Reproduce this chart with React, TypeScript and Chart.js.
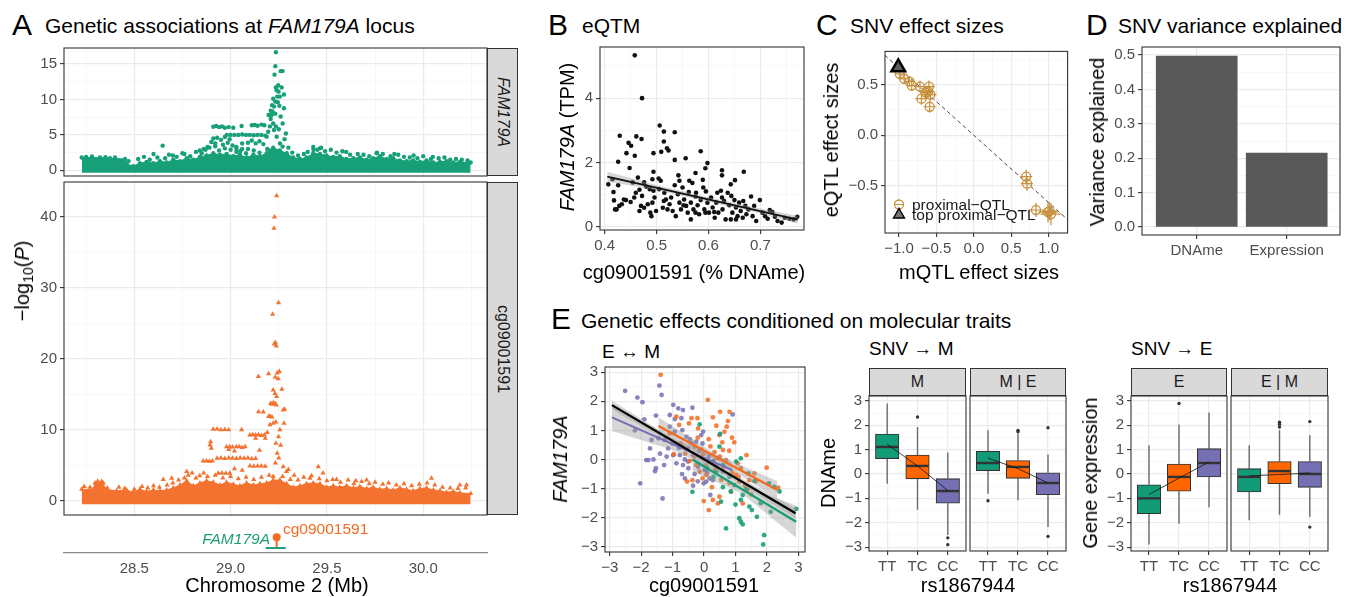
import React, { useEffect, useRef } from "react";
import { Chart, registerables } from "chart.js";

Chart.register(...registerables);

const FONT = "'Liberation Sans', Arial, Helvetica, sans-serif";
const TICK_COL = "#4d4d4d";
const PAD = 6;
const GREEN = "#1b9e77";
const ORANGE = "#f26b21";
const PURPLE = "#7570b3";
const MANH_GREEN = "#17a078";
const MANH_ORANGE = "#f4722f";
const TAN = "#c8903a";
const BOX_COLS = ["#119b77", "#ff6600", "#7570b3"];
const TITLE_FS = 21;
const AXIS_FS = 20;

// ---------------- Panel A : Manhattan ----------------
const chromMajor = [28.5, 29.0, 29.5, 30.0];
const chromMinor = [28.25, 28.75, 29.25, 29.75, 30.25];
// dense background band (upper edge of the dense cloud of SNVs)
const famEnvX = [28.227, 28.322, 28.374, 28.452, 28.46, 28.495, 28.529, 28.564, 28.599, 28.633, 28.668, 28.702, 28.737, 28.772, 28.806, 28.841, 28.875, 28.91, 28.945, 28.979, 29.014, 29.048, 29.083, 29.118, 29.152, 29.187, 29.204, 29.221, 29.256, 29.291, 29.325, 29.36, 29.394, 29.429, 29.464, 29.498, 29.533, 29.567, 29.602, 29.637, 29.671, 29.706, 29.74, 29.775, 29.81, 29.844, 29.879, 29.913, 29.948, 29.983, 30.017, 30.052, 30.087, 30.121, 30.156, 30.19, 30.246];
const famEnvY = [1.8, 1.8, 1.7, 1.6, 0.9, 0.6, 1.0, 1.2, 1.0, 1.3, 1.1, 1.5, 1.3, 1.7, 1.5, 1.9, 2.1, 2.4, 2.2, 2.3, 2.0, 2.2, 1.8, 2.2, 2.0, 2.4, 2.8, 3.2, 2.8, 2.4, 1.8, 1.6, 1.8, 2.4, 2.3, 2.1, 1.9, 2.0, 1.6, 1.7, 1.8, 1.5, 1.7, 2.0, 1.6, 1.7, 1.4, 1.3, 1.4, 1.2, 1.4, 1.1, 1.2, 1.3, 1.1, 1.2, 1.1];
const famPeakPts = [
  [28.647, 3.48], [28.91, 6.15], [28.925, 6.25], [28.94, 6.1], [28.955, 6.2], [28.97, 6.0], [28.99, 6.1], [29.014, 6.0], [29.057, 6.26],
  [29.11, 6.35], [29.125, 6.4], [29.14, 6.3], [29.16, 6.45], [29.175, 6.35],
  [28.98, 5.0], [29.0, 5.0], [29.02, 5.0], [29.04, 5.0], [29.06, 5.05], [29.08, 5.0], [29.1, 5.0], [29.12, 4.95], [29.14, 5.0], [29.16, 5.0], [29.18, 4.9],
  [28.91, 4.5], [28.93, 4.6], [28.95, 4.3], [28.97, 4.7], [28.995, 4.4],
  [28.9, 4.0], [28.92, 3.8], [28.96, 3.6], [28.985, 3.9], [29.01, 3.5], [29.03, 3.3], [29.06, 3.8], [29.09, 3.9], [29.11, 4.2], [29.13, 3.8], [29.15, 4.1], [29.17, 3.7],
  [29.0, 2.9], [29.03, 3.0], [29.06, 3.0], [29.09, 3.0], [28.88, 3.3], [28.86, 3.0], [28.84, 2.8],
  [29.197, 7.8], [29.208, 8.4], [29.208, 7.25], [29.221, 6.6], [29.221, 10.1], [29.232, 9.7], [29.239, 11.3], [29.249, 11.1], [29.277, 10.7], [29.253, 9.1], [29.277, 8.75],
  [29.228, 13.5], [29.232, 14.7], [29.26, 14.0], [29.27, 14.0], [29.235, 16.66], [29.287, 5.2], [29.213, 7.8], [29.217, 8.3], [29.232, 8.0], [29.225, 5.7], [29.239, 4.75],
  [29.256, 3.8], [29.27, 3.35], [29.187, 4.75], [29.195, 5.45], [29.204, 6.2], [29.242, 10.4], [29.256, 10.4], [29.265, 11.7], [29.247, 12.0], [29.235, 11.7], [29.215, 9.2],
  [29.225, 9.0], [29.245, 9.6], [29.26, 7.6], [29.27, 6.6], [29.25, 5.8], [29.235, 6.2], [29.28, 4.4],
  [29.429, 3.3], [29.464, 3.1], [29.45, 2.9], [29.52, 2.9], [29.6, 2.6], [29.758, 2.4], [29.85, 2.3], [29.95, 2.1], [30.05, 1.9], [28.6, 2.3], [28.75, 2.4], [28.68, 2.2],
  [28.25, 1.9], [28.28, 1.95], [28.35, 1.85], [28.4, 1.8], [28.47, 1.3], [28.52, 1.6], [28.55, 1.9], [28.58, 1.5], [28.62, 1.8], [28.66, 1.7], [28.7, 2.1], [28.72, 1.9],
  [28.76, 2.3], [28.79, 2.0], [28.82, 2.6], [28.85, 2.4], [28.87, 2.9], [28.89, 3.2], [28.92, 3.4], [28.94, 2.8], [28.97, 3.1], [29.03, 2.6], [29.05, 2.7], [29.08, 2.4],
  [29.12, 2.8], [29.15, 2.5], [29.19, 3.0], [29.3, 3.2], [29.32, 2.5], [29.35, 2.1], [29.38, 2.3], [29.4, 2.6], [29.43, 2.9], [29.47, 3.2], [29.49, 2.7], [29.55, 2.5],
  [29.58, 2.7], [29.62, 2.2], [29.66, 2.3], [29.69, 2.2], [29.72, 2.0], [29.76, 2.5], [29.79, 2.3], [29.83, 2.0], [29.87, 2.2], [29.9, 1.9], [29.93, 1.8], [29.97, 1.7],
  [30.0, 2.0], [30.04, 1.6], [30.08, 1.7], [30.11, 1.8], [30.14, 1.5], [30.17, 1.6], [30.2, 1.5], [30.23, 1.4],
];
const cpgEnvX = [28.227, 28.287, 28.296, 28.339, 28.348, 28.408, 28.46, 28.495, 28.529, 28.564, 28.599, 28.633, 28.668, 28.702, 28.737, 28.772, 28.806, 28.841, 28.875, 28.91, 28.945, 28.979, 29.014, 29.048, 29.083, 29.118, 29.152, 29.187, 29.221, 29.256, 29.291, 29.325, 29.36, 29.394, 29.429, 29.464, 29.498, 29.533, 29.567, 29.602, 29.637, 29.671, 29.706, 29.74, 29.775, 29.81, 29.844, 29.879, 29.913, 29.948, 29.983, 30.017, 30.052, 30.087, 30.121, 30.156, 30.19, 30.246];
const cpgEnvY = [1.6, 1.6, 2.5, 2.5, 1.6, 1.4, 1.5, 1.2, 1.6, 1.3, 1.5, 1.4, 1.5, 1.8, 2.2, 2.8, 2.1, 2.5, 2.8, 2.6, 2.2, 2.6, 2.3, 2.1, 2.5, 2.2, 2.4, 2.5, 2.9, 2.9, 2.4, 1.9, 2.1, 2.4, 2.5, 2.4, 1.9, 2.1, 1.9, 2.1, 1.8, 2.0, 1.7, 1.9, 1.6, 1.7, 1.5, 1.8, 1.6, 1.4, 1.7, 1.8, 1.5, 1.4, 1.2, 1.3, 1.1, 1.0];
const cpgPeakPts = [
  [29.239, 43.0], [29.228, 40.0], [29.225, 38.4], [29.249, 27.9], [29.218, 26.3], [29.232, 22.3], [29.237, 21.8], [29.227, 22.1], [29.144, 17.5], [29.197, 17.9],
  [29.242, 18.0], [29.253, 18.2], [29.232, 17.4], [29.247, 17.2], [29.221, 15.6], [29.266, 15.7], [29.23, 15.1], [29.239, 14.7], [29.208, 13.7], [29.215, 13.6],
  [29.222, 13.8], [29.23, 13.7], [29.237, 13.5], [29.273, 12.8], [29.28, 12.9], [29.145, 12.55], [29.197, 11.85], [29.204, 11.9], [29.215, 11.8], [29.221, 10.9],
  [29.235, 11.1], [29.204, 10.7], [29.277, 10.9], [29.256, 10.0], [29.249, 9.0], [29.235, 8.1], [29.242, 6.7], [29.232, 5.3], [29.273, 4.8], [29.29, 4.1],
  [29.221, 3.4], [29.26, 7.8], [29.25, 6.0],
  [28.91, 10.06], [28.93, 10.1], [28.95, 10.0], [28.97, 10.05], [28.99, 10.0], [29.057, 10.0],
  [29.1, 9.26], [29.115, 9.3], [29.13, 9.25], [29.145, 9.3], [29.16, 9.2], [29.175, 9.25], [29.13, 8.8],
  [28.896, 8.3], [28.893, 7.85], [28.9, 7.4],
  [28.979, 7.6], [28.995, 7.6], [29.01, 7.55], [29.03, 7.6], [29.045, 7.6], [29.06, 7.5], [29.075, 7.6], [28.99, 7.2], [29.02, 7.0],
  [28.93, 5.97], [28.95, 6.0], [28.97, 5.95], [28.99, 6.0], [29.01, 5.97], [29.03, 5.95], [29.05, 6.0], [29.07, 5.97], [29.09, 6.0], [29.11, 5.9], [29.13, 5.95],
  [29.1, 4.9], [29.12, 4.85], [29.14, 4.9], [29.16, 4.9], [29.18, 4.85],
  [28.858, 5.6], [28.875, 5.6], [28.89, 5.55], [28.905, 5.6],
  [28.936, 3.86], [28.955, 3.9], [28.975, 3.85], [28.995, 3.86],
  [29.455, 4.8], [28.772, 4.1], [28.694, 3.15], [29.412, 3.15], [29.706, 2.9], [30.043, 3.15], [30.19, 2.2], [30.225, 2.2], [29.48, 3.9], [29.55, 3.0],
  [29.65, 2.8], [28.8, 3.9], [28.65, 3.0], [28.33, 2.7], [28.31, 2.75], [29.3, 4.4], [29.33, 3.6], [29.02, 4.5], [29.06, 4.3], [29.15, 7.1], [29.18, 8.8],
  [29.19, 9.6], [29.17, 12.5],
  [28.24, 2.0], [28.27, 1.9], [28.36, 1.8], [28.42, 1.9], [28.45, 1.7], [28.5, 1.6], [28.54, 2.0], [28.57, 1.8], [28.6, 2.1], [28.63, 1.9], [28.67, 2.2], [28.7, 2.5],
  [28.73, 2.9], [28.76, 3.2], [28.78, 3.6], [28.82, 3.2], [28.84, 3.5], [28.86, 3.9], [28.88, 3.4], [28.92, 3.6], [28.96, 3.2], [29.0, 3.4], [29.04, 3.1], [29.08, 3.3],
  [29.12, 3.0], [29.16, 3.3], [29.2, 3.6], [29.27, 3.4], [29.31, 3.0], [29.35, 2.9], [29.38, 3.3], [29.42, 3.5], [29.46, 3.1], [29.5, 2.8], [29.53, 3.0], [29.57, 2.6],
  [29.61, 2.9], [29.64, 2.4], [29.68, 2.7], [29.72, 2.4], [29.75, 2.6], [29.79, 2.3], [29.82, 2.5], [29.86, 2.2], [29.9, 2.4], [29.94, 2.1], [29.98, 2.3], [30.02, 2.5],
  [30.06, 2.2], [30.1, 1.9], [30.14, 1.8], [30.18, 1.7], [30.22, 1.8],
];
const geneX = [29.182, 29.286];
const geneY = [0.15, 0.15];
const probeX = [29.239, 29.239];
const probeY = [0.15, 0.48];

// ---------------- Panel B : eQTM ----------------
const bX = [0.458, 0.472, 0.506, 0.514, 0.535, 0.429, 0.461, 0.471, 0.446, 0.451, 0.514, 0.520, 0.523, 0.509, 0.494, 0.442, 0.458, 0.585, 0.535, 0.556, 0.426, 0.598, 0.594, 0.626, 0.626, 0.668, 0.448, 0.494, 0.542, 0.575, 0.651, 0.643, 0.589, 0.563, 0.504, 0.508, 0.492, 0.464, 0.407, 0.415, 0.426, 0.417, 0.418, 0.423, 0.428, 0.433, 0.441, 0.450, 0.457, 0.460, 0.467, 0.470, 0.467, 0.476, 0.483, 0.488, 0.490, 0.499, 0.494, 0.487, 0.505, 0.514, 0.512, 0.518, 0.521, 0.525, 0.528, 0.531, 0.535, 0.537, 0.541, 0.544, 0.547, 0.550, 0.553, 0.557, 0.560, 0.562, 0.566, 0.569, 0.571, 0.575, 0.576, 0.579, 0.582, 0.585, 0.590, 0.592, 0.595, 0.598, 0.601, 0.605, 0.608, 0.612, 0.615, 0.619, 0.624, 0.627, 0.630, 0.633, 0.637, 0.640, 0.644, 0.646, 0.650, 0.653, 0.656, 0.659, 0.662, 0.667, 0.671, 0.673, 0.677, 0.682, 0.685, 0.688, 0.692, 0.699, 0.704, 0.709, 0.714, 0.718, 0.723, 0.728, 0.733, 0.741, 0.747, 0.756, 0.764, 0.771, 0.480, 0.454, 0.437, 0.420, 0.552, 0.566, 0.575, 0.617, 0.626, 0.643, 0.653, 0.666, 0.544, 0.515, 0.496, 0.492, 0.472, 0.476, 0.594, 0.611];
const bY = [5.33, 4.0, 3.15, 2.96, 2.94, 2.83, 2.81, 2.73, 2.61, 2.52, 2.65, 2.44, 2.37, 2.33, 2.29, 2.29, 2.21, 2.35, 2.08, 2.13, 2.02, 1.98, 1.82, 1.76, 1.6, 1.71, 1.83, 1.71, 1.6, 1.67, 1.45, 1.32, 1.46, 1.43, 1.5, 1.43, 1.48, 1.53, 1.32, 1.48, 1.29, 1.08, 0.82, 0.54, 0.65, 0.7, 0.83, 0.77, 0.91, 1.06, 1.15, 0.65, 0.49, 0.59, 0.7, 0.44, 0.33, 0.49, 1.12, 1.17, 1.17, 0.8, 0.59, 0.85, 0.54, 0.7, 0.91, 0.49, 1.29, 0.33, 1.01, 0.75, 0.54, 1.22, 0.85, 0.65, 0.44, 1.08, 0.75, 1.36, 0.54, 0.94, 1.06, 0.67, 0.39, 0.83, 1.22, 0.54, 1.1, 0.75, 0.44, 0.91, 0.6, 0.28, 0.75, 0.44, 1.12, 0.54, 0.8, 0.23, 1.06, 0.67, 0.96, 0.44, 0.83, 0.6, 0.33, 0.75, 0.49, 0.8, 0.65, 0.39, 0.54, 0.94, 0.33, 0.65, 0.18, 0.83, 0.44, 0.33, 0.25, 0.52, 0.46, 0.31, 0.18, 0.13, 0.28, 0.25, 0.23, 0.31, 1.25, 1.38, 0.85, 0.54, 0.67, 0.23, 0.44, 1.06, 0.91, 0.23, 0.23, 0.28, 1.43, 1.06, 0.91, 0.75, 0.96, 1.38, 0.44, 0.46];
const bFitX = [0.405, 0.772];
const bFitY = [1.56, 0.22];
const bBandX = [0.405, 0.5, 0.6, 0.7, 0.772];
const bBandLo = [1.41, 1.14, 0.78, 0.41, 0.1];
const bBandHi = [1.71, 1.3, 0.92, 0.57, 0.34];

// ---------------- Panel C : effect sizes ----------------
const cX = [-0.99, -0.93, -0.86, -0.83, -0.72, -0.6, -0.61, -0.64, -0.7, -0.58, -0.59, 0.7, 0.71, 0.83, 0.99, 1.03, 1.01];
const cY = [0.605, 0.556, 0.53, 0.49, 0.48, 0.48, 0.43, 0.42, 0.36, 0.4, 0.28, -0.41, -0.48, -0.74, -0.76, -0.78, -0.75];
const cXerr = [0.06, 0.07, 0.07, 0.07, 0.08, 0.08, 0.08, 0.08, 0.08, 0.08, 0.08, 0.08, 0.08, 0.1, 0.13, 0.14, 0.1];
const cYerr = [0.05, 0.05, 0.05, 0.05, 0.06, 0.06, 0.06, 0.06, 0.06, 0.06, 0.06, 0.07, 0.07, 0.07, 0.1, 0.11, 0.09];
const cTopX = [-1.01];
const cTopY = [0.67];
const cDiagX = [-1.19, 1.26];
const cDiagY = [0.79, -0.84];

// ---------------- Panel D : variance explained ----------------
const dCats = ["DNAme", "Expression"];
const dPos = [1, 2];
const dVals = [0.497, 0.215];

// ---------------- Panel E1 : E <-> M ----------------
const ePurX = [-2.51, -2.12, -1.96, -1.42, -1.35, -1.9, -1.53, -1.09, -0.98, -0.82, -0.67, -0.37, -0.72, -1.09, -0.93, -0.69, -1.25, -1.45, -1.67, -1.72, -1.84, -1.77, -1.61, -1.53, -1.56, -1.27, -1.19, -0.98, -0.88, -0.67, -0.61, -2.03, -1.32, -0.61, -0.51, -0.4, -0.25, -0.09, -0.01, 0.07, 0.18, 0.28, 0.2, -0.03, -0.93, 0.91, -0.51, -0.35, -0.77, -1.14, -0.56, -0.19, 0.02, 0.39, 0.6, -0.8, -0.5, -0.3, -0.15, 0.1, -0.45, -1.0, -0.2, 0.3, -0.7, -1.4, -2.2, -0.05, 0.15, -0.35];
const ePurY = [2.36, 2.13, 1.97, 2.54, 2.22, 1.38, 1.51, 1.53, 1.88, 1.76, 1.7, 1.78, 1.42, 1.13, 0.96, 1.01, 0.67, 0.73, 0.67, 0.38, -0.02, -0.02, 0.0, -0.3, -0.4, -0.19, 0.1, 0.15, -0.13, -0.19, -0.65, -0.82, -1.34, 0.0, 0.38, 0.56, 0.61, 0.84, -0.82, -0.76, -0.65, -0.71, -1.22, 0.96, 1.39, 1.55, -0.07, 0.15, 0.15, 0.38, 0.78, -0.25, -0.36, -0.19, -0.42, 0.4, -0.3, -0.5, 0.3, -0.45, 0.7, 0.55, -0.75, -0.05, -0.5, 0.2, 1.0, 0.55, 0.1, -0.9];
const eOrX = [-1.38, 0.12, 0.51, 0.76, 0.81, 0.28, -0.4, -0.21, 0.39, 0.72, -0.88, -0.79, -1.09, -0.48, -0.19, 0.15, 0.49, 0.58, 0.89, 0.96, 1.35, 1.07, 1.17, 1.99, 2.36, 1.65, 1.38, 1.12, 0.81, 0.86, 0.49, 0.28, 0.15, -0.01, 0.44, -0.37, -0.54, -0.96, -0.03, 0.18, 0.33, 0.44, 0.6, 0.7, -0.25, -0.14, 0.07, 1.23, 1.6, 1.44, 1.02, -0.67, -0.3, -0.6, -0.45, -0.3, -0.1, 0.05, 0.2, 0.35, 0.5, 0.62, 0.8, 0.9, 1.1, 1.3, -0.05, 0.25, 0.55, -0.75, -0.2, 0.65, 1.5];
const eOrY = [2.91, 2.05, 1.64, 1.32, 1.64, 1.45, 1.42, 1.42, 1.16, 1.13, 1.47, 1.19, 0.9, 1.24, 1.07, 0.7, 0.84, 0.59, 0.75, 0.59, 0.15, -0.13, -0.3, -0.28, -0.97, -0.74, -1.05, -0.76, -0.82, -1.11, -1.28, -1.39, -1.74, -1.43, -1.51, -0.71, -0.76, 0.18, 0.18, -0.08, 0.25, 0.04, 0.33, -0.02, -0.19, -0.42, -0.53, -1.51, -0.48, -0.71, -0.53, 0.44, 0.44, 0.2, -0.05, 0.1, 0.35, -0.2, 0.45, -0.35, 0.1, -0.25, 0.3, -0.45, -0.6, -0.9, -0.65, -0.95, -0.7, 0.55, 0.75, 0.95, -1.2];
const eGrX = [-0.14, 0.51, 0.49, 1.02, 1.17, 1.41, 2.07, 2.23, 2.93, -0.37, 0.54, 1.17, 1.44, 1.52, 1.12, 1.17, 1.23, 1.68, 1.91, 1.88, 0.7, 2.12, 0.81, 0.6, 0.96, 1.6, 0.39, 0.28, 1.23, 0.1, 0.3, 0.6, 0.85, 1.0, 1.35, 1.8, 2.4];
const eGrY = [1.21, 0.88, 0.44, -0.07, 0.04, -0.48, -0.82, -0.94, -1.7, -1.11, -1.45, -1.39, -1.62, -1.74, -2.02, -2.14, -2.23, -1.97, -2.6, -2.92, -2.37, -1.8, -0.59, -0.19, -0.88, -0.74, -0.42, -0.08, -1.22, -0.3, -0.6, -0.95, -1.1, -1.55, -1.0, -1.5, -1.1];
const fitPurX = [-2.93, 0.9];
const fitPurY = [1.45, -0.37];
const bandPurX = [-2.93, -1.0, 0.9];
const bandPurLo = [0.98, 0.33, -0.66];
const bandPurHi = [1.92, 0.73, -0.08];
const fitOrX = [-1.45, 2.33];
const fitOrY = [1.15, -1.05];
const bandOrX = [-1.45, 0.4, 2.33];
const bandOrLo = [0.85, -0.03, -1.35];
const bandOrHi = [1.45, 0.17, -0.75];
const fitGrX = [-0.37, 2.93];
const fitGrY = [0.0, -2.14];
const bandGrX = [-0.37, 1.2, 2.93];
const bandGrLo = [-0.4, -1.17, -2.69];
const bandGrHi = [0.4, -0.87, -1.59];
const fitAllX = [-2.93, 2.91];
const fitAllY = [1.87, -1.85];
const bandAllX = [-2.93, 0.0, 2.91];
const bandAllLo = [1.72, -0.06, -2.02];
const bandAllHi = [2.02, 0.06, -1.68];

// ---------------- Panels E2/E3 : boxplots ----------------
const genotypes = ["TT", "TC", "CC"];
// five-number summaries per genotype: [low whisker, Q1, median, Q3, high whisker]
const boxM = [[-0.4, 0.63, 1.11, 1.64, 2.89], [-1.47, -0.2, 0.33, 0.78, 1.93], [-2.5, -1.2, -0.7, -0.19, 0.88]];
const meanM = [1.22, 0.33, -0.68];
const outM = [[2, 2.34], [3, -2.62], [3, -2.9]];
const boxMgE = [[-0.81, 0.14, 0.45, 0.93, 1.79], [-1.08, -0.18, 0.29, 0.55, 1.65], [-2.18, -0.85, -0.37, 0.05, 0.8]];
const meanMgE = [0.65, 0.22, -0.37];
const outMgE = [[1, -1.1], [2, 1.73], [2, 1.79], [3, 1.9], [3, -2.56]];
const boxE = [[-2.89, -1.63, -1.0, -0.44, 1.18], [-2.04, -0.71, -0.12, 0.41, 2.03], [-1.36, -0.12, 0.45, 1.04, 2.52]];
const meanE = [-0.84, -0.17, 0.49];
const outE = [[2, 2.89]];
const boxEgM = [[-1.9, -0.74, -0.12, 0.22, 1.18], [-1.67, -0.4, 0.12, 0.51, 1.79], [-1.77, -0.55, 0.0, 0.51, 1.59]];
const meanEgM = [-0.08, -0.02, 0.04];
const outEgM = [[2, 1.93], [2, 2.04], [2, 2.12], [3, 2.15], [3, -2.18]];

// ---------------- helpers ----------------
type PBox = { L: number; T: number; R: number; B: number };
const pts = (xs: number[], ys: number[]) => xs.map((x, i) => ({ x, y: ys[i] }));
const pairPts = (ps: number[][]) => ps.map((p) => ({ x: p[0], y: p[1] }));
const fmt = (d: number) => (v: number) => (v < 0 ? "\u2212" : "") + Math.abs(v).toFixed(d);

function axis(o: {
  dir: "x" | "y"; min: number; max: number; major: number[]; minor?: number[];
  size: number; fmt?: (v: number) => string; labels?: boolean; ticks?: boolean;
}) {
  const minor = o.minor || [];
  const all = [...o.major, ...minor].sort((a, b) => a - b);
  const isMajor = (v: any) => typeof v === "number" && o.major.some((m) => Math.abs(m - v) < 1e-9);
  const showTicks = o.ticks !== false;
  return {
    type: "linear",
    min: o.min,
    max: o.max,
    offset: false,
    afterBuildTicks: (s: any) => { s.ticks = all.map((v) => ({ value: v })); },
    afterFit: (s: any) => {
      if (o.dir === "y") s.width = o.size; else s.height = o.size;
      s.paddingLeft = 0; s.paddingRight = 0; s.paddingTop = 0; s.paddingBottom = 0;
    },
    grid: {
      display: true,
      offset: false,
      color: (c: any) => (isMajor(c.tick && c.tick.value) ? "#ebebeb" : "#f4f4f4"),
      lineWidth: (c: any) => (isMajor(c.tick && c.tick.value) ? 1.2 : 0.7),
      drawTicks: showTicks,
      tickLength: 4,
      tickWidth: 1.1,
      tickColor: (c: any) => (isMajor(c.tick && c.tick.value) ? "#333333" : "rgba(0,0,0,0)"),
    },
    border: { display: false },
    ticks: {
      display: o.labels !== false,
      autoSkip: false,
      maxRotation: 0,
      minRotation: 0,
      padding: 3,
      color: TICK_COL,
      font: { family: FONT, size: 15 },
      callback: (v: any) => (isMajor(v) ? (o.fmt ? o.fmt(v) : String(v)) : ""),
    },
  };
}

function opts(x: any, y: any) {
  return {
    responsive: false,
    maintainAspectRatio: false,
    animation: false,
    events: [],
    layout: { padding: PAD },
    plugins: { legend: { display: false }, tooltip: { enabled: false }, title: { display: false } },
    scales: { x, y },
  };
}

const panelBorder = {
  id: "panelBorder",
  afterDraw(chart: any) {
    const { ctx, chartArea: a } = chart;
    ctx.save();
    ctx.strokeStyle = "#333333";
    ctx.lineWidth = 1.1;
    ctx.strokeRect(a.left, a.top, a.right - a.left, a.bottom - a.top);
    ctx.restore();
  },
};

function bandSets(xs: number[], lo: number[], hi: number[], order: number) {
  return [
    { type: "line", data: pts(xs, lo), borderColor: "rgba(0,0,0,0)", borderWidth: 0, pointRadius: 0, fill: false, order },
    { type: "line", data: pts(xs, hi), borderColor: "rgba(0,0,0,0)", borderWidth: 0, pointRadius: 0, fill: "-1", backgroundColor: "rgba(153,153,153,0.4)", order },
  ];
}

function ChartCanvas({ P, ya, xa, make }: { P: PBox; ya: number; xa: number; make: () => any }) {
  const ref = useRef<HTMLCanvasElement | null>(null);
  const W = P.R - P.L + ya + 2 * PAD;
  const H = P.B - P.T + xa + 2 * PAD;
  useEffect(() => {
    const chart = new Chart(ref.current as HTMLCanvasElement, make());
    return () => chart.destroy();
  }, []);
  return (
    <canvas ref={ref} width={W} height={H}
      style={{ position: "absolute", left: P.L - ya - PAD, top: P.T - PAD, width: W, height: H }} />
  );
}

// ---------------- chart builders ----------------
const A_XMIN = 28.135, A_XMAX = 30.331;

const makeATop = () => ({
  type: "scatter",
  data: {
    datasets: [
      { type: "scatter", data: pairPts(famPeakPts), pointRadius: 2.2, backgroundColor: MANH_GREEN, borderWidth: 0, order: 1 },
      { type: "line", data: pts(famEnvX, famEnvY), fill: { value: -0.35 }, backgroundColor: MANH_GREEN, borderColor: MANH_GREEN, borderWidth: 1, tension: 0, pointRadius: 2.2, pointBackgroundColor: MANH_GREEN, pointBorderWidth: 0, order: 2 },
    ],
  },
  options: opts(
    axis({ dir: "x", min: A_XMIN, max: A_XMAX, major: chromMajor, minor: chromMinor, size: 0, labels: false, ticks: false }),
    axis({ dir: "y", min: -0.8, max: 17.26, major: [0, 5, 10, 15], minor: [2.5, 7.5, 12.5], size: 40, fmt: fmt(0) })
  ),
  plugins: [panelBorder],
});

const makeABot = () => ({
  type: "scatter",
  data: {
    datasets: [
      { type: "scatter", data: pairPts(cpgPeakPts), pointStyle: "triangle", pointRadius: 3, backgroundColor: MANH_ORANGE, borderWidth: 0, order: 1 },
      { type: "line", data: pts(cpgEnvX, cpgEnvY), fill: { value: -0.5 }, backgroundColor: MANH_ORANGE, borderColor: MANH_ORANGE, borderWidth: 1, tension: 0, pointStyle: "triangle", pointRadius: 3, pointBackgroundColor: MANH_ORANGE, pointBorderWidth: 0, order: 2 },
    ],
  },
  options: opts(
    axis({ dir: "x", min: A_XMIN, max: A_XMAX, major: chromMajor, minor: chromMinor, size: 0, labels: false, ticks: false }),
    axis({ dir: "y", min: -2.02, max: 44.93, major: [0, 10, 20, 30, 40], minor: [5, 15, 25, 35], size: 40, fmt: fmt(0) })
  ),
  plugins: [panelBorder],
});

const makeGene = () => ({
  type: "scatter",
  data: {
    datasets: [
      { type: "line", data: pts(geneX, geneY), borderColor: GREEN, borderWidth: 2, pointRadius: 0 },
      { type: "line", data: pts(probeX, probeY), borderColor: ORANGE, borderWidth: 2, pointRadius: [0, 4], pointBackgroundColor: ORANGE, pointBorderWidth: 0 },
    ],
  },
  options: opts(
    {
      type: "linear", min: A_XMIN, max: A_XMAX, offset: false,
      afterBuildTicks: (s: any) => { s.ticks = chromMajor.map((v) => ({ value: v })); },
      afterFit: (s: any) => { s.height = 26; s.paddingLeft = 0; s.paddingRight = 0; s.paddingTop = 0; s.paddingBottom = 0; },
      grid: { display: false, drawTicks: false },
      border: { display: true, color: "#8c8c8c", width: 1.3 },
      ticks: { autoSkip: false, maxRotation: 0, padding: 7, color: TICK_COL, font: { family: FONT, size: 15 }, callback: (v: any) => fmt(1)(v) },
    },
    { type: "linear", display: false, min: 0, max: 1 }
  ),
});

const makeB = () => ({
  type: "scatter",
  data: {
    datasets: [
      { type: "scatter", data: pts(bX, bY), pointRadius: 2.3, backgroundColor: "#111111", borderWidth: 0, order: 3 },
      ...bandSets(bBandX, bBandLo, bBandHi, 2),
      { type: "line", data: pts(bFitX, bFitY), borderColor: "#111111", borderWidth: 1.8, pointRadius: 0, order: 1 },
    ],
  },
  options: opts(
    axis({ dir: "x", min: 0.391, max: 0.784, major: [0.4, 0.5, 0.6, 0.7], minor: [0.45, 0.55, 0.65, 0.75], size: 28, fmt: fmt(1) }),
    axis({ dir: "y", min: -0.1, max: 5.59, major: [0, 2, 4], minor: [1, 3, 5], size: 40, fmt: fmt(0) })
  ),
  plugins: [panelBorder],
});

const errPlugin = {
  id: "errbars",
  afterDatasetDraw(chart: any, args: any) {
    if (args.index !== 1) return;
    const { ctx, scales } = chart;
    const x = scales.x, y = scales.y;
    ctx.save();
    ctx.strokeStyle = TAN;
    ctx.lineWidth = 1.2;
    cX.forEach((vx, i) => {
      const vy = cY[i];
      ctx.beginPath();
      ctx.moveTo(x.getPixelForValue(vx - cXerr[i]), y.getPixelForValue(vy));
      ctx.lineTo(x.getPixelForValue(vx + cXerr[i]), y.getPixelForValue(vy));
      ctx.moveTo(x.getPixelForValue(vx), y.getPixelForValue(vy - cYerr[i]));
      ctx.lineTo(x.getPixelForValue(vx), y.getPixelForValue(vy + cYerr[i]));
      ctx.stroke();
    });
    ctx.restore();
  },
};

const makeC = () => ({
  type: "scatter",
  data: {
    datasets: [
      { type: "line", data: pts(cDiagX, cDiagY), borderColor: "#333333", borderWidth: 0.9, borderDash: [4, 3], pointRadius: 0, order: 3 },
      { type: "scatter", data: pts(cX, cY), pointStyle: "circle", pointRadius: 4.5, backgroundColor: "rgba(0,0,0,0)", borderColor: TAN, borderWidth: 1.3, order: 2 },
      { type: "scatter", data: pts(cTopX, cTopY), pointStyle: "triangle", pointRadius: 8, backgroundColor: "#5a5a5a", borderColor: "#000000", borderWidth: 2.4, order: 1 },
    ],
  },
  options: opts(
    axis({ dir: "x", min: -1.187, max: 1.2525, major: [-1, -0.5, 0, 0.5, 1], minor: [-0.75, -0.25, 0.25, 0.75], size: 28, fmt: fmt(1) }),
    axis({ dir: "y", min: -0.967, max: 0.827, major: [-0.5, 0, 0.5], minor: [-0.75, -0.25, 0.25, 0.75], size: 45, fmt: fmt(1) })
  ),
  plugins: [errPlugin, panelBorder],
});

const makeD = () => ({
  type: "bar",
  data: {
    datasets: [
      { type: "bar", data: pts(dPos, dVals), backgroundColor: "#595959", borderWidth: 0, barThickness: 81 },
    ],
  },
  options: opts(
    axis({ dir: "x", min: 0.392, max: 2.592, major: dPos, size: 28, fmt: (v: number) => dCats[Math.round(v) - 1] }),
    axis({ dir: "y", min: -0.0233, max: 0.5233, major: [0, 0.1, 0.2, 0.3, 0.4, 0.5], minor: [0.05, 0.15, 0.25, 0.35, 0.45], size: 40, fmt: fmt(1) })
  ),
  plugins: [panelBorder],
});

const makeE1 = () => ({
  type: "scatter",
  data: {
    datasets: [
      { type: "scatter", data: pts(ePurX, ePurY), pointRadius: 2.4, backgroundColor: "rgba(117,112,179,0.85)", borderWidth: 0, order: 9 },
      { type: "scatter", data: pts(eOrX, eOrY), pointRadius: 2.4, backgroundColor: "rgba(242,107,33,0.85)", borderWidth: 0, order: 8 },
      { type: "scatter", data: pts(eGrX, eGrY), pointRadius: 2.4, backgroundColor: "rgba(27,158,119,0.9)", borderWidth: 0, order: 7 },
      ...bandSets(bandPurX, bandPurLo, bandPurHi, 6),
      ...bandSets(bandOrX, bandOrLo, bandOrHi, 6),
      ...bandSets(bandGrX, bandGrLo, bandGrHi, 6),
      ...bandSets(bandAllX, bandAllLo, bandAllHi, 6),
      { type: "line", data: pts(fitPurX, fitPurY), borderColor: PURPLE, borderWidth: 2, pointRadius: 0, order: 4 },
      { type: "line", data: pts(fitOrX, fitOrY), borderColor: ORANGE, borderWidth: 2.2, pointRadius: 0, order: 3 },
      { type: "line", data: pts(fitGrX, fitGrY), borderColor: GREEN, borderWidth: 2.4, pointRadius: 0, order: 2 },
      { type: "line", data: pts(fitAllX, fitAllY), borderColor: "#000000", borderWidth: 2.2, pointRadius: 0, order: 1 },
    ],
  },
  options: opts(
    axis({ dir: "x", min: -3.15, max: 3.21, major: [-3, -2, -1, 0, 1, 2, 3], minor: [-2.5, -1.5, -0.5, 0.5, 1.5, 2.5], size: 28, fmt: fmt(0) }),
    axis({ dir: "y", min: -3.18, max: 3.18, major: [-3, -2, -1, 0, 1, 2, 3], minor: [-2.5, -1.5, -0.5, 0.5, 1.5, 2.5], size: 40, fmt: fmt(0) })
  ),
  plugins: [panelBorder],
});

function boxPlugin(boxes: number[][]) {
  return {
    id: "boxParts",
    beforeDatasetsDraw(chart: any) {
      const { ctx, chartArea: a, scales } = chart;
      ctx.save();
      ctx.beginPath();
      ctx.rect(a.left, a.top, a.right - a.left, a.bottom - a.top);
      ctx.clip();
      ctx.strokeStyle = "#6b6b6b";
      ctx.lineWidth = 1.4;
      boxes.forEach((b, i) => {
        const x = scales.x.getPixelForValue(i + 1);
        ctx.beginPath();
        ctx.moveTo(x, scales.y.getPixelForValue(b[4]));
        ctx.lineTo(x, scales.y.getPixelForValue(b[3]));
        ctx.moveTo(x, scales.y.getPixelForValue(b[1]));
        ctx.lineTo(x, scales.y.getPixelForValue(b[0]));
        ctx.stroke();
      });
      ctx.restore();
    },
    afterDatasetDraw(chart: any, args: any) {
      if (args.index !== 0) return;
      const { ctx, scales } = chart;
      const meta = chart.getDatasetMeta(0);
      ctx.save();
      ctx.strokeStyle = "#333333";
      ctx.lineWidth = 2.4;
      boxes.forEach((b, i) => {
        const el: any = meta.data[i];
        const half = el.width / 2;
        const y = scales.y.getPixelForValue(b[2]);
        ctx.beginPath();
        ctx.moveTo(el.x - half + 0.5, y);
        ctx.lineTo(el.x + half - 0.5, y);
        ctx.stroke();
      });
      ctx.restore();
    },
  };
}

function makeBox(boxes: number[][], means: number[], outliers: number[][], showY: boolean) {
  return () => ({
    type: "bar",
    data: {
      datasets: [
        { type: "bar", data: boxes.map((b, i) => ({ x: i + 1, y: [b[1], b[3]] })), backgroundColor: BOX_COLS, borderColor: "#333333", borderWidth: 1.1, borderSkipped: false, barThickness: 23.5, order: 3 },
        { type: "scatter", data: pairPts(outliers), pointRadius: 1.7, backgroundColor: "#333333", borderWidth: 0, order: 2 },
        { type: "line", data: means.map((m, i) => ({ x: i + 1, y: m })), borderColor: "#111111", borderWidth: 0.8, pointRadius: 0, order: 1 },
      ],
    },
    options: opts(
      axis({ dir: "x", min: 0.4, max: 3.6, major: [1, 2, 3], size: 28, fmt: (v: number) => genotypes[Math.round(v) - 1] }),
      axis({ dir: "y", min: -3.16, max: 3.2, major: [-3, -2, -1, 0, 1, 2, 3], minor: [-2.5, -1.5, -0.5, 0.5, 1.5, 2.5], size: showY ? 40 : 0, fmt: fmt(0), labels: showY, ticks: showY })
    ),
    plugins: [boxPlugin(boxes), panelBorder],
  });
}

// ---------------- text helpers ----------------
function Txt({ x, y, size = 19, anchor = "start", color = "#000", children }: any) {
  const tx = anchor === "middle" ? "translateX(-50%)" : anchor === "end" ? "translateX(-100%)" : "none";
  return (
    <div style={{ position: "absolute", left: x, top: y - 0.8465 * size, fontSize: size, lineHeight: `${size}px`, whiteSpace: "nowrap", color, transform: tx, fontFamily: FONT }}>
      {children}
    </div>
  );
}
function VTxt({ cx, cy, size = 19, rot = -90, color = "#000", children }: any) {
  return (
    <div style={{ position: "absolute", left: cx, top: cy, fontSize: size, lineHeight: `${size}px`, whiteSpace: "nowrap", color, fontFamily: FONT, transform: `translate(-50%,-50%) rotate(${rot}deg)` }}>
      {children}
    </div>
  );
}
function Strip({ P, children, vertical }: any) {
  return (
    <div style={{ position: "absolute", left: P.L, top: P.T, width: P.R - P.L, height: P.B - P.T, background: "#d9d9d9", border: "1.1px solid #333", boxSizing: "border-box" }}>
      <div style={{ position: "absolute", left: "50%", top: "50%", transform: `translate(-50%,-50%)${vertical ? " rotate(90deg)" : ""}`, fontSize: 16, lineHeight: "16px", whiteSpace: "nowrap", color: "#1a1a1a", fontFamily: FONT }}>
        {children}
      </div>
    </div>
  );
}

export default function App() {
  return (
    <div style={{ position: "absolute", left: 0, top: 0, width: 1345, height: 597, overflow: "hidden", background: "#fff", fontFamily: FONT }}>
      {/* Panel A */}
      <Txt x={12} y={35} size={30}>A</Txt>
      <Txt x={45} y={33} size={TITLE_FS}>Genetic associations at <i>FAM179A</i> locus</Txt>
      <ChartCanvas P={{ L: 64, T: 48, R: 487, B: 176 }} ya={40} xa={0} make={makeATop} />
      <ChartCanvas P={{ L: 64, T: 182, R: 487, B: 515 }} ya={40} xa={0} make={makeABot} />
      <Strip P={{ L: 487, T: 48, R: 518, B: 176 }} vertical><i>FAM179A</i></Strip>
      <Strip P={{ L: 487, T: 182, R: 518, B: 515 }} vertical>cg09001591</Strip>
      <ChartCanvas P={{ L: 64, T: 520, R: 487, B: 553 }} ya={0} xa={26} make={makeGene} />
      <Txt x={270} y={544} size={15.5} anchor="end" color={GREEN}><i>FAM179A</i></Txt>
      <Txt x={283} y={534} size={15.5} color={ORANGE}>cg09001591</Txt>
      <VTxt cx={22} cy={281} size={AXIS_FS}>
        {"\u2212"}log<sub style={{ fontSize: "0.7em", verticalAlign: "-0.25em", lineHeight: 0 }}>10</sub>(<i>P</i>)
      </VTxt>
      <Txt x={277} y={592} size={AXIS_FS} anchor="middle">Chromosome 2 (Mb)</Txt>

      {/* Panel B */}
      <Txt x={548} y={35} size={30}>B</Txt>
      <Txt x={582} y={33} size={TITLE_FS}>eQTM</Txt>
      <ChartCanvas P={{ L: 600, T: 47, R: 804, B: 230 }} ya={40} xa={28} make={makeB} />
      <VTxt cx={567} cy={137} size={AXIS_FS}><i>FAM179A</i> (TPM)</VTxt>
      <Txt x={694} y={279} size={AXIS_FS} anchor="middle">cg09001591 (% DNAme)</Txt>

      {/* Panel C */}
      <Txt x={816} y={35} size={30}>C</Txt>
      <Txt x={850} y={33} size={TITLE_FS}>SNV effect sizes</Txt>
      <ChartCanvas P={{ L: 885, T: 47, R: 1072, B: 233 }} ya={45} xa={28} make={makeC} />
      <svg style={{ position: "absolute", left: 892, top: 197, overflow: "visible" }} width={14} height={24}>
        <circle cx={7} cy={7.5} r={4.5} fill="none" stroke={TAN} strokeWidth={1.3} />
        <line x1={2} y1={7.5} x2={12} y2={7.5} stroke={TAN} strokeWidth={1} />
        <polygon points="7,11.5 12.5,21 1.5,21" fill="#777" stroke="#000" strokeWidth={1.4} />
      </svg>
      <Txt x={912} y={210} size={15.5} color="#1a1a1a">proximal{"\u2212"}QTL</Txt>
      <Txt x={912} y={220} size={15.5} color="#1a1a1a">top proximal{"\u2212"}QTL</Txt>
      <VTxt cx={831} cy={140} size={AXIS_FS}>eQTL effect sizes</VTxt>
      <Txt x={979} y={279} size={AXIS_FS} anchor="middle">mQTL effect sizes</Txt>

      {/* Panel D */}
      <Txt x={1086} y={35} size={30}>D</Txt>
      <Txt x={1118} y={33} size={TITLE_FS}>SNV variance explained</Txt>
      <ChartCanvas P={{ L: 1142, T: 47, R: 1340, B: 235 }} ya={40} xa={28} make={makeD} />
      <VTxt cx={1097} cy={142} size={AXIS_FS}>Variance explained</VTxt>

      {/* Panel E */}
      <Txt x={551} y={329} size={30}>E</Txt>
      <Txt x={581} y={328} size={TITLE_FS}>Genetic effects conditioned on molecular traits</Txt>
      <Txt x={602} y={358} size={19}>E {"\u2194"} M</Txt>
      <ChartCanvas P={{ L: 605, T: 367, R: 805, B: 552 }} ya={40} xa={28} make={makeE1} />
      <VTxt cx={560} cy={459} size={AXIS_FS}><i>FAM179A</i></VTxt>
      <Txt x={704} y={592} size={AXIS_FS} anchor="middle">cg09001591</Txt>

      <Txt x={869} y={355} size={19}>SNV {"\u2192"} M</Txt>
      <Strip P={{ L: 869, T: 368, R: 966, B: 396 }}>M</Strip>
      <Strip P={{ L: 970, T: 368, R: 1066, B: 396 }}>M | E</Strip>
      <ChartCanvas P={{ L: 869, T: 396, R: 966, B: 551 }} ya={40} xa={28} make={makeBox(boxM, meanM, outM, true)} />
      <ChartCanvas P={{ L: 970, T: 396, R: 1066, B: 551 }} ya={0} xa={28} make={makeBox(boxMgE, meanMgE, outMgE, false)} />
      <VTxt cx={828} cy={473} size={AXIS_FS}>DNAme</VTxt>
      <Txt x={968} y={592} size={AXIS_FS} anchor="middle">rs1867944</Txt>

      <Txt x={1131} y={355} size={19}>SNV {"\u2192"} E</Txt>
      <Strip P={{ L: 1131, T: 368, R: 1227, B: 396 }}>E</Strip>
      <Strip P={{ L: 1231, T: 368, R: 1328, B: 396 }}>E | M</Strip>
      <ChartCanvas P={{ L: 1131, T: 396, R: 1227, B: 551 }} ya={40} xa={28} make={makeBox(boxE, meanE, outE, true)} />
      <ChartCanvas P={{ L: 1231, T: 396, R: 1328, B: 551 }} ya={0} xa={28} make={makeBox(boxEgM, meanEgM, outEgM, false)} />
      <VTxt cx={1090} cy={473} size={AXIS_FS}>Gene expression</VTxt>
      <Txt x={1230} y={592} size={AXIS_FS} anchor="middle">rs1867944</Txt>
    </div>
  );
}
